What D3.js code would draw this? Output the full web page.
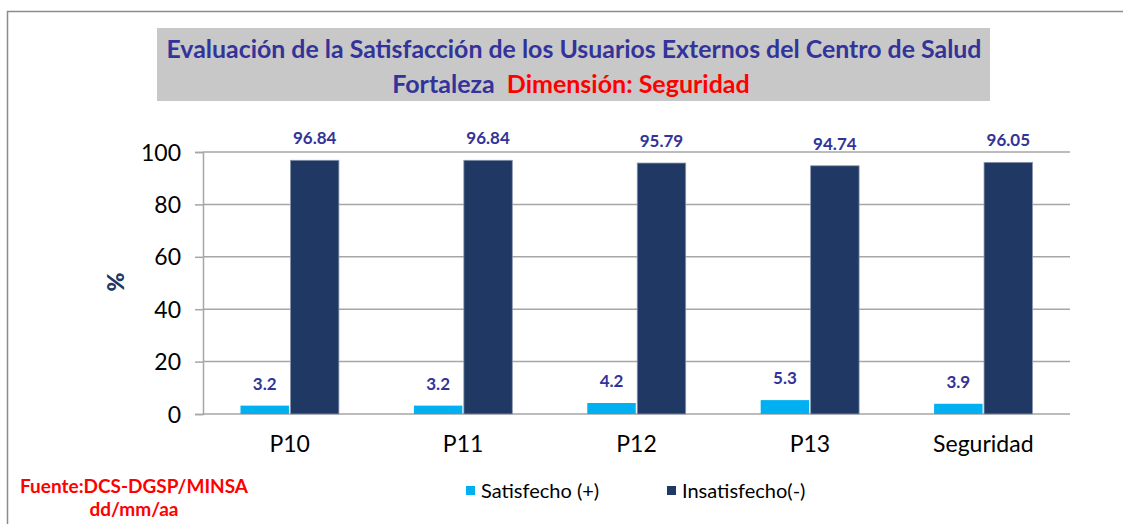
<!DOCTYPE html>
<html>
<head>
<meta charset="utf-8">
<script src="https://cdn.jsdelivr.net/npm/d3@7"></script>
<style>
  body { margin: 0; background: #fff; }
  svg { display: block; font-family: Lato, "Open Sans", sans-serif; }
</style>
</head>
<body>
<div id="chart"></div>
<script>
// Data
const categories = ["P10", "P11", "P12", "P13", "Seguridad"];
const satisfecho = [3.2, 3.2, 4.2, 5.3, 3.9];
const insatisfecho = [96.84, 96.84, 95.79, 94.74, 96.05];
const seriesNames = ["Satisfecho (+)", "Insatisfecho(-)"];
const yTicks = [0, 20, 40, 60, 80, 100];

const width = 1123, height = 524;
const margin = { top: 152, right: 53, bottom: 110, left: 203 };
const colors = ["#00B0F0", "#203864"];
const labelColor = "#333399";
const font = "Lato, 'Open Sans', sans-serif";

const svg = d3.select("#chart").append("svg")
    .attr("width", width)
    .attr("height", height);

// outer frame
svg.append("rect")
    .attr("x", 7.5).attr("y", 11.5)
    .attr("width", 1300).attr("height", 700)
    .attr("fill", "none")
    .attr("stroke", "#8c8c8c")
    .attr("stroke-width", 1.5);

// scales
const x0 = d3.scaleBand()
    .domain(categories)
    .range([margin.left, width - margin.right])
    .padding(0);

const x1 = d3.scaleBand()
    .domain(seriesNames)
    .range([37.5, x0.bandwidth() - 37.5])
    .paddingInner(0.03);

const y = d3.scaleLinear()
    .domain([0, 100])
    .range([height - margin.bottom, margin.top]);

// gridlines
svg.append("g")
    .selectAll("line")
    .data(yTicks)
    .enter()
    .append("line")
    .attr("x1", margin.left)
    .attr("x2", width - margin.right)
    .attr("y1", d => y(d))
    .attr("y2", d => y(d))
    .attr("stroke", "#a6a6a6")
    .attr("stroke-width", 1.5);

// y axis
svg.append("g")
    .attr("transform", `translate(${margin.left},0)`)
    .call(d3.axisLeft(y).tickValues(yTicks).tickSize(8).tickPadding(14))
    .attr("font-family", font)
    .call(g => g.select(".domain").attr("stroke", "#a6a6a6").attr("stroke-width", 1.5))
    .call(g => g.selectAll(".tick line").attr("stroke", "#a6a6a6").attr("stroke-width", 1.5))
    .call(g => g.selectAll(".tick text")
        .attr("fill", "#000")
        .style("font-size", "23px")
        .attr("dy", "0.35em"));

// bars
const rows = categories.map((c, i) => ({
    category: c,
    values: [satisfecho[i], insatisfecho[i]]
}));

const groups = svg.append("g")
    .selectAll("g")
    .data(rows)
    .enter()
    .append("g")
    .attr("transform", d => `translate(${x0(d.category)},0)`);

groups.selectAll("rect")
    .data(d => d.values.map((v, j) => ({ series: seriesNames[j], value: v, j: j })))
    .enter()
    .append("rect")
    .attr("x", d => x1(d.series))
    .attr("y", d => y(d.value))
    .attr("width", x1.bandwidth())
    .attr("height", d => y(0) - y(d.value))
    .attr("fill", d => colors[d.j])
    .attr("stroke", d => d.j === 1 ? "#8a96ad" : "none")
    .attr("stroke-width", 0.8);

// value labels
groups.selectAll("text")
    .data(d => d.values.map((v, j) => ({ series: seriesNames[j], value: v, j: j })))
    .enter()
    .append("text")
    .attr("x", d => x1(d.series) + x1.bandwidth() / 2)
    .attr("y", d => y(d.value) - 16)
    .attr("text-anchor", "middle")
    .attr("fill", labelColor)
    .style("font-size", "17px")
    .style("font-weight", "bold")
    .text(d => d.value);

// x axis labels
svg.append("g")
    .attr("transform", `translate(0,${y(0)})`)
    .call(d3.axisBottom(x0).tickSize(0).tickPadding(22))
    .attr("font-family", font)
    .call(g => g.select(".domain").remove())
    .call(g => g.selectAll(".tick text")
        .attr("fill", "#000")
        .style("font-size", "23px"));

// y axis title
svg.append("text")
    .attr("transform", "translate(124,282) rotate(-90)")
    .attr("text-anchor", "middle")
    .attr("fill", "#1f3864")
    .style("font-size", "23px")
    .style("font-weight", "900")
    .text("%");

// title box
svg.append("rect")
    .attr("x", 157).attr("y", 28)
    .attr("width", 833).attr("height", 73)
    .attr("fill", "#c8c8c8");

svg.append("text")
    .attr("x", 574).attr("y", 58)
    .attr("text-anchor", "middle")
    .attr("fill", labelColor)
    .style("font-size", "25px")
    .style("font-weight", "bold")
    .attr("textLength", 815)
    .attr("lengthAdjust", "spacingAndGlyphs")
    .text("Evaluación de la Satisfacción de los Usuarios Externos del Centro de Salud");

const t2 = svg.append("text")
    .attr("x", 571).attr("y", 93)
    .attr("text-anchor", "middle")
    .style("font-size", "25px")
    .style("font-weight", "bold");
t2.append("tspan").attr("fill", labelColor).text("Fortaleza\u00a0\u00a0");
t2.append("tspan").attr("fill", "#ff0000").text("Dimensión: Seguridad");

// legend
const legendX = [466, 667];
const legend = svg.append("g")
    .selectAll("g")
    .data(seriesNames)
    .enter()
    .append("g")
    .attr("transform", (d, i) => `translate(${legendX[i]},486)`);

legend.append("rect")
    .attr("width", 9).attr("height", 9)
    .attr("fill", (d, i) => colors[i]);

legend.append("text")
    .attr("x", 15).attr("y", 5)
    .attr("dy", "0.35em")
    .attr("fill", "#000")
    .style("font-size", "20px")
    .text(d => d);

// source note
svg.append("text")
    .attr("x", 134).attr("y", 493)
    .attr("text-anchor", "middle")
    .attr("fill", "#ff0000")
    .style("font-size", "19px")
    .style("font-weight", "bold")
    .text("Fuente:DCS-DGSP/MINSA");

svg.append("text")
    .attr("x", 134).attr("y", 516)
    .attr("text-anchor", "middle")
    .attr("fill", "#ff0000")
    .style("font-size", "19px")
    .style("font-weight", "bold")
    .text("dd/mm/aa");
</script>
</body>
</html>
